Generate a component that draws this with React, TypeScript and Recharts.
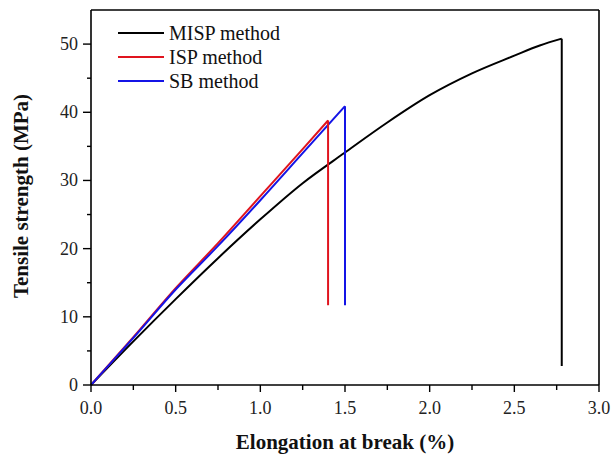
import React from "react";
import { LineChart, Line, XAxis, YAxis, ReferenceLine, Label } from "recharts";

// strain (%) and stress (MPa); last point of each is the drop after break
const mispStrain = [0, 0.25, 0.5, 0.75, 1.0, 1.25, 1.5, 1.75, 2.0, 2.25, 2.5, 2.65, 2.78, 2.78];
const mispStress = [0, 6.4, 12.6, 18.6, 24.3, 29.6, 34.1, 38.5, 42.5, 45.7, 48.3, 49.8, 50.8, 2.8];

const ispStrain = [0, 0.25, 0.5, 0.75, 1.0, 1.25, 1.4, 1.4];
const ispStress = [0, 7.0, 14.2, 20.8, 27.7, 34.6, 38.8, 11.7];

const sbStrain = [0, 0.25, 0.5, 0.75, 1.0, 1.25, 1.5, 1.5];
const sbStress = [0, 6.9, 14.0, 20.4, 27.1, 34.0, 40.9, 11.7];

const seriesNames = ["MISP method", "ISP method", "SB method"];
const seriesColors = ["#000000", "#e0141e", "#1414e6"];

const xTicks = [0, 0.25, 0.5, 0.75, 1.0, 1.25, 1.5, 1.75, 2.0, 2.25, 2.5, 2.75, 3.0];
const yTicks = [0, 5, 10, 15, 20, 25, 30, 35, 40, 45, 50];

function zip(xs: number[], ys: number[]) {
  return xs.map((x, i) => ({ x, y: ys[i] }));
}

const allSeries = [
  zip(mispStrain, mispStress),
  zip(ispStrain, ispStress),
  zip(sbStrain, sbStress),
];

const FONT = "'Times New Roman', 'Liberation Serif', serif";

const XTick = ({ x, y, payload }: any) => {
  const v = payload.value;
  const major = Math.abs(v * 2 - Math.round(v * 2)) < 1e-6;
  return (
    <g>
      <line x1={x} y1={y} x2={x} y2={y + (major ? 7 : 5)} stroke="#000" strokeWidth={1.4} />
      {major && (
        <text x={x} y={y + 29} textAnchor="middle" style={{ fontFamily: FONT, fontSize: 18 }} fill="#222">
          {v.toFixed(1)}
        </text>
      )}
    </g>
  );
};

const YTick = ({ x, y, payload }: any) => {
  const v = payload.value;
  const major = v % 10 === 0;
  return (
    <g>
      <line x1={x} y1={y} x2={x - (major ? 8 : 4)} y2={y} stroke="#000" strokeWidth={1.4} />
      {major && (
        <text x={x - 13} y={y + 6} textAnchor="end" style={{ fontFamily: FONT, fontSize: 18 }} fill="#222">
          {v}
        </text>
      )}
    </g>
  );
};

export default function App() {
  return (
    <div style={{ position: "absolute", left: 0, top: 0, width: 614, height: 459, background: "#fff" }}>
      <LineChart width={614} height={459} margin={{ top: 10, right: 15, bottom: 14, left: 0 }}>
        <XAxis
          type="number"
          dataKey="x"
          domain={[0, 3]}
          ticks={xTicks}
          interval={0}
          height={60}
          tickSize={0}
          tickMargin={0}
          tick={<XTick />}
          tickLine={false}
          axisLine={{ stroke: "#000", strokeWidth: 1.6 }}
          allowDuplicatedCategory={false}
        >
          <Label
            content={() => (
              <text
                x={345}
                y={449}
                textAnchor="middle"
                style={{ fontFamily: FONT, fontWeight: "bold", fontSize: 21 }}
                fill="#111"
              >
                Elongation at break (%)
              </text>
            )}
          />
        </XAxis>
        <YAxis
          type="number"
          dataKey="y"
          domain={[0, 55]}
          ticks={yTicks}
          interval={0}
          width={91}
          tickSize={0}
          tickMargin={0}
          tick={<YTick />}
          tickLine={false}
          axisLine={{ stroke: "#000", strokeWidth: 1.6 }}
        >
          <Label
            content={() => (
              <text
                x={28}
                y={196}
                transform="rotate(-90 28 196)"
                textAnchor="middle"
                style={{ fontFamily: FONT, fontWeight: "bold", fontSize: 21 }}
                fill="#111"
              >
                Tensile strength (MPa)
              </text>
            )}
          />
        </YAxis>
        <ReferenceLine y={55} stroke="#000" strokeWidth={1.6} />
        <ReferenceLine x={3} stroke="#000" strokeWidth={1.6} />
        {allSeries.map((pts, i) => (
          <Line
            key={`curve-${i}`}
            data={pts.slice(0, -1)}
            dataKey="y"
            name={seriesNames[i]}
            type="monotone"
            stroke={seriesColors[i]}
            strokeWidth={2}
            dot={false}
            isAnimationActive={false}
          />
        ))}
        {allSeries.map((pts, i) => (
          <Line
            key={`drop-${i}`}
            data={pts.slice(-2)}
            dataKey="y"
            type="linear"
            stroke={seriesColors[i]}
            strokeWidth={2}
            dot={false}
            legendType="none"
            isAnimationActive={false}
          />
        ))}
      </LineChart>
      <svg width={200} height={80} style={{ position: "absolute", left: 118, top: 23 }}>
        {seriesNames.map((name, i) => (
          <g key={name}>
            <line x1={0} y1={10 + i * 24} x2={46} y2={10 + i * 24} stroke={seriesColors[i]} strokeWidth={2} />
            <text x={51} y={16.5 + i * 24} style={{ fontFamily: FONT, fontSize: 20 }} fill="#111">
              {name}
            </text>
          </g>
        ))}
      </svg>
    </div>
  );
}
